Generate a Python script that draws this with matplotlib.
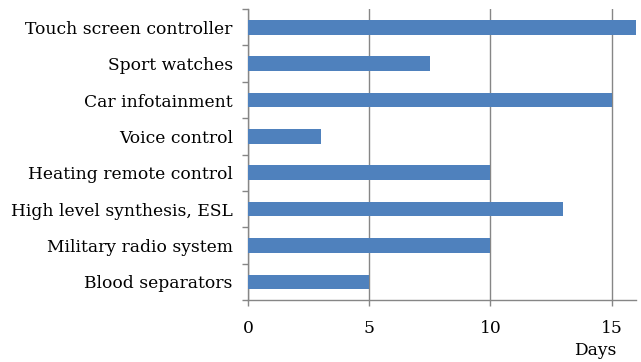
import matplotlib.pyplot as plt
import numpy as np

# Data (top to bottom)
categories = ['Touch screen controller', 'Sport watches', 'Car infotainment',
              'Voice control', 'Heating remote control',
              'High level synthesis, ESL', 'Military radio system',
              'Blood separators']
days = [16, 7.5, 15, 3, 10, 13, 10, 5]
xticks = [0, 5, 10, 15]

plt.rcParams['font.family'] = ['DejaVu Serif']

bar_color = '#4F81BD'
axis_gray = '#868686'
fsize = 12.3

fig = plt.figure(figsize=(6.41, 3.62), dpi=100)
ax = fig.add_axes([0.387, 0.171, 0.605, 0.804])

n = len(categories)
ypos = np.arange(n)[::-1]
ax.barh(ypos, days, height=0.4, color=bar_color, zorder=3)

ax.set_xlim(0, 16)
ax.set_ylim(-0.5, n - 0.5)

# x axis
ax.set_xticks(xticks)
ax.set_xticklabels([str(t) for t in xticks], fontsize=fsize)
ax.tick_params(axis='x', direction='out', length=4, color=axis_gray,
               width=1, pad=10)
ax.grid(axis='x', color=axis_gray, linewidth=1, zorder=0)

# y axis: labels at centres, tick marks at boundaries (Excel style)
ax.set_yticks(ypos)
ax.set_yticklabels(categories, fontsize=fsize)
ax.tick_params(axis='y', length=0, pad=11)
ax.set_yticks(np.arange(n + 1) - 0.5, minor=True)
ax.tick_params(axis='y', which='minor', direction='out', length=4,
               color=axis_gray, width=1)

for side in ['top', 'right']:
    ax.spines[side].set_visible(False)
for side in ['left', 'bottom']:
    ax.spines[side].set_color(axis_gray)
    ax.spines[side].set_linewidth(1)

fig.text(0.928, 0.019, 'Days', fontsize=fsize, ha='center', va='baseline')

fig.savefig('out.png', dpi=100)
